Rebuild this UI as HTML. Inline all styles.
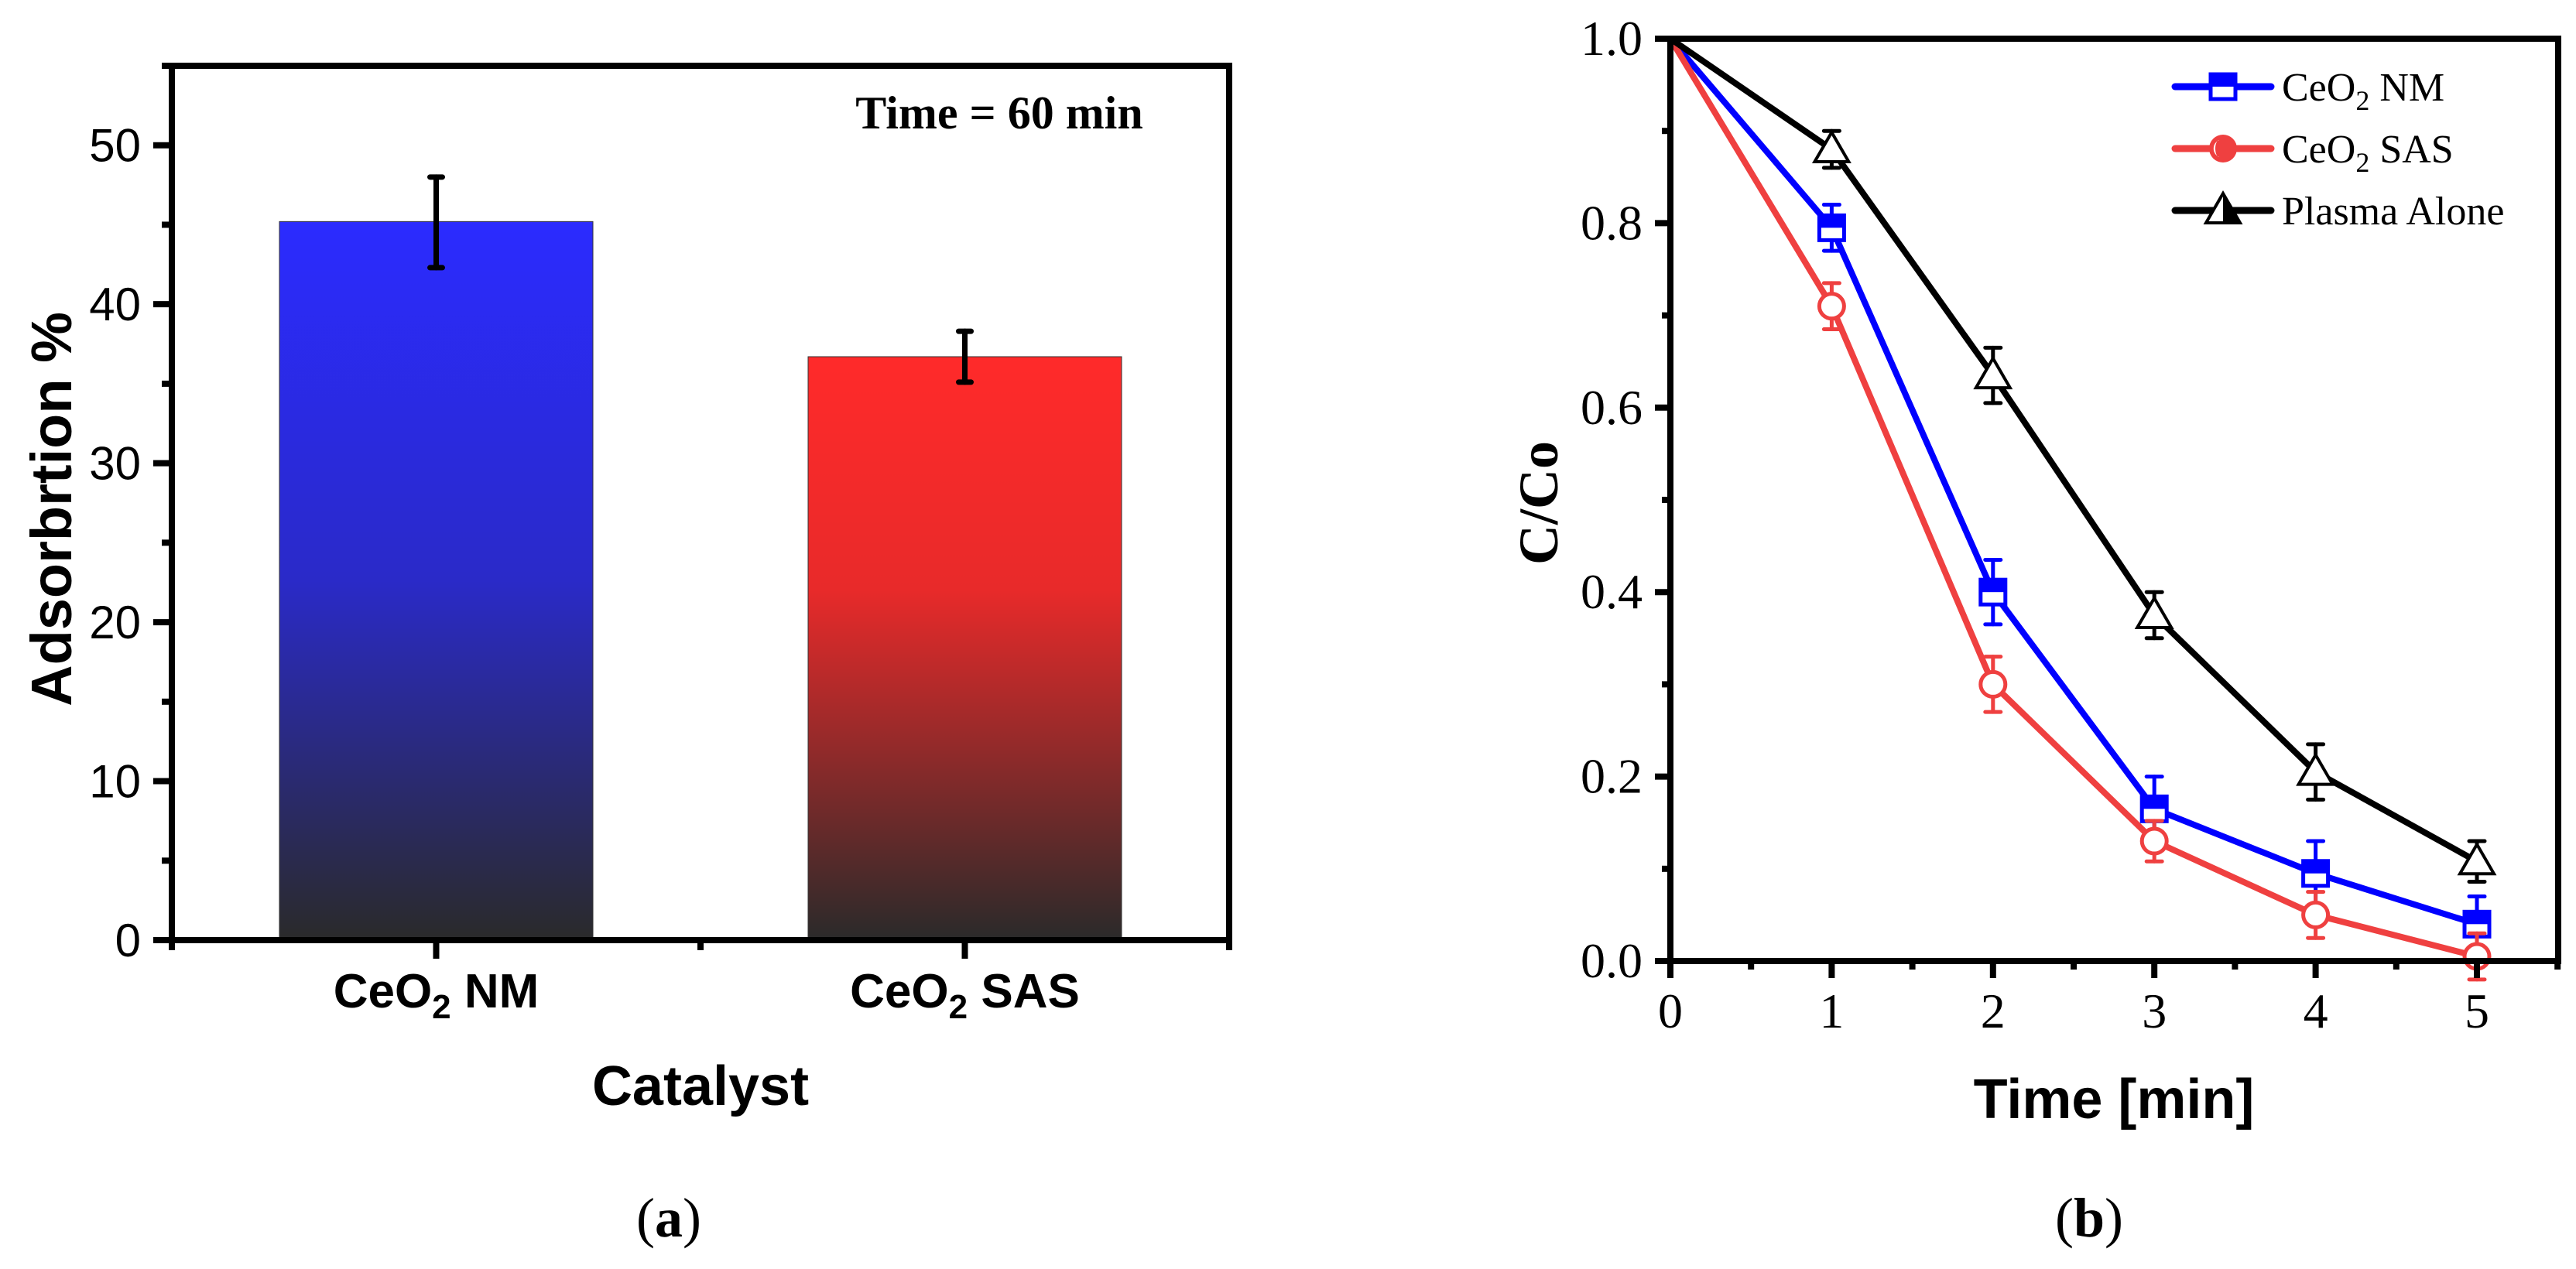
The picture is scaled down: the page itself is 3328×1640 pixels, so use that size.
<!DOCTYPE html>
<html><head><meta charset="utf-8"><style>
html,body{margin:0;padding:0;background:#fff;}
svg{display:block;}
</style></head><body>
<svg id="fig" width="3328" height="1640" viewBox="0 0 3328 1640" xmlns="http://www.w3.org/2000/svg">
<defs>
<linearGradient id="gBlue" x1="0" y1="0" x2="0" y2="1">
<stop offset="0" stop-color="#2b2bff"/><stop offset="0.5" stop-color="#2a2ac8"/><stop offset="1" stop-color="#2a2a2a"/></linearGradient>
<linearGradient id="gRed" x1="0" y1="0" x2="0" y2="1">
<stop offset="0" stop-color="#ff2a2a"/><stop offset="0.4" stop-color="#e82a2a"/><stop offset="1" stop-color="#2a2a2a"/></linearGradient>
</defs>
<g id="pa"></g>
<g id="pb"></g>
</svg>
<script>
// Panel A data
const barCategories = ["NM", "SAS"];
const barValues = [45.2, 36.7];
const barErrLow = [42.3, 35.1];
const barErrHigh = [48.0, 38.3];
const yTicksA = [0, 10, 20, 30, 40, 50];
// Panel B data
const timePoints = [0, 1, 2, 3, 4, 5];
const nmValues = [1.0, 0.795, 0.40, 0.165, 0.095, 0.04];
const nmErr = [0, 0.025, 0.035, 0.035, 0.035, 0.03];
const sasValues = [1.0, 0.71, 0.30, 0.13, 0.05, 0.005];
const sasErr = [0, 0.025, 0.03, 0.022, 0.025, 0.025];
const plasmaValues = [1.0, 0.88, 0.635, 0.375, 0.205, 0.108];
const plasmaErr = [0, 0.02, 0.03, 0.025, 0.03, 0.022];
const yTicksB = [0, 0.2, 0.4, 0.6, 0.8, 1.0];
const xTicksB = [0, 1, 2, 3, 4, 5];

const NS = "http://www.w3.org/2000/svg";
function mk(parent, tag, attrs, text) {
  const e = document.createElementNS(NS, tag);
  for (const k in attrs) e.setAttribute(k, attrs[k]);
  if (text !== undefined) e.textContent = text;
  parent.appendChild(e);
  return e;
}
const pa = document.getElementById('pa');
const pb = document.getElementById('pb');

// ---------- Panel A ----------
const aL = 222, aR = 1588, aT = 85, aB = 1215;
const yA = v => aB - (v / 55) * (aB - aT);
const xA = i => aL + (aR - aL) * (0.25 + 0.5 * i);
const barW = 405;
const fills = ["url(#gBlue)", "url(#gRed)"];
barCategories.forEach((c, i) => {
  const r = mk(pa, 'rect', {x: xA(i) - barW / 2, y: yA(barValues[i]), width: barW, height: yA(0) - yA(barValues[i]), fill: fills[i], stroke: '#333', 'stroke-width': 1});
  
  
  const g = mk(pa, 'g', {stroke: '#000', 'stroke-width': 7, 'stroke-linecap': 'round'});
  
  
  mk(g, 'line', {x1: xA(i), x2: xA(i), y1: yA(barErrLow[i]), y2: yA(barErrHigh[i])});
  mk(g, 'line', {x1: xA(i) - 8, x2: xA(i) + 8, y1: yA(barErrLow[i]), y2: yA(barErrLow[i])});
  mk(g, 'line', {x1: xA(i) - 8, x2: xA(i) + 8, y1: yA(barErrHigh[i]), y2: yA(barErrHigh[i])});
});
const fa = mk(pa, 'rect', {x: aL, y: aT, width: aR - aL, height: aB - aT, fill: 'none', stroke: '#000', 'stroke-width': 8});


yTicksA.forEach(t => {
  mk(pa, 'line', {x1: aL - 24, x2: aL, y1: yA(t), y2: yA(t), stroke: '#000', 'stroke-width': 8});
  const tx = mk(pa, 'text', {x: aL - 40, y: yA(t) + 21, 'text-anchor': 'end', 'font-family': 'Liberation Sans, sans-serif', 'font-size': 60}, String(t));
  
  
  mk(pa, 'line', {x1: aL - 13, x2: aL, y1: yA(t + 5), y2: yA(t + 5), stroke: '#000', 'stroke-width': 8});
});
[0, 0.25, 0.5, 0.75, 1].forEach(f => {
  const x = aL + (aR - aL) * f;
  mk(pa, 'line', {x1: x, x2: x, y1: aB, y2: aB + (f === 0.25 || f === 0.75 ? 24 : 13), stroke: '#000', 'stroke-width': 8});
});
barCategories.forEach((c, i) => {
  const t = mk(pa, 'text', {x: xA(i), y: 1302, 'text-anchor': 'middle', 'font-family': 'Liberation Sans, sans-serif', 'font-size': 62, 'font-weight': 'bold'});
  
  
  mk(t, 'tspan', {}, 'CeO');
  mk(t, 'tspan', {dy: 14, 'font-size': 44}, '2');
  mk(t, 'tspan', {dy: -14}, ' ' + c);
});
let el;
el = mk(pa, 'text', {x: 0, y: 0, transform: 'translate(92,658) rotate(-90)', 'text-anchor': 'middle', 'font-family': 'Liberation Sans, sans-serif', 'font-size': 74, 'font-weight': 'bold'}, 'Adsorbrtion %');


el = mk(pa, 'text', {x: 905, y: 1428, 'text-anchor': 'middle', 'font-family': 'Liberation Sans, sans-serif', 'font-size': 72, 'font-weight': 'bold'}, 'Catalyst');


el = mk(pa, 'text', {x: 1291, y: 166, 'text-anchor': 'middle', 'font-family': 'Liberation Serif, serif', 'font-size': 60, 'font-weight': 'bold'}, 'Time = 60 min');


el = mk(pa, 'text', {x: 864, y: 1598, 'text-anchor': 'middle', 'font-family': 'Liberation Serif, serif', 'font-size': 72});
mk(el, 'tspan', {}, '(');
mk(el, 'tspan', {'font-weight': 'bold'}, 'a');
mk(el, 'tspan', {}, ')');



// ---------- Panel B ----------
const bL = 2158, bR = 3305, bT = 50, bB = 1242;
const xB = t => bL + (t / 5) * (3200 - bL);
const yB = v => bB - v * (bB - bT) / 1.0;
const series = [
  {name: 'nm', vals: nmValues, err: nmErr, color: '#0000ff', marker: 'square'},
  {name: 'sas', vals: sasValues, err: sasErr, color: '#ef4040', marker: 'circle'},
  {name: 'plasma', vals: plasmaValues, err: plasmaErr, color: '#000000', marker: 'triangle'}
];
function marker(g, type, x, y, color, legend) {
  if (type === 'square') {
    mk(g, 'rect', {x: x - 16, y: y - 16, width: 32, height: 32, fill: '#fff', stroke: color, 'stroke-width': 5});
    mk(g, 'rect', {x: x - 16, y: y - 16, width: 32, height: 16, fill: color});
  } else if (type === 'circle') {
    if (legend) {
      mk(g, 'circle', {cx: x, cy: y, r: 18, fill: color});
      mk(g, 'path', {d: `M${x-5},${y-11} A12,12 0 0,0 ${x-5},${y+11} A5,11 0 0,1 ${x-5},${y-11} Z`, fill: '#fff'});
    } else {
      mk(g, 'circle', {cx: x, cy: y, r: 16, fill: '#fff', stroke: color, 'stroke-width': 5});
    }
  } else {
    mk(g, 'path', {d: `M${x},${y-22} L${x+22},${y+16} L${x-22},${y+16} Z`, fill: '#fff', stroke: color, 'stroke-width': 4});
    if (legend) mk(g, 'path', {d: `M${x},${y-22} L${x+22},${y+16} L${x},${y+16} Z`, fill: color});
  }
}
series.forEach(s => {
  const g = mk(pb, 'g', {});
  
  
  const pts = s.vals.map((v, i) => xB(timePoints[i]) + ',' + yB(v)).join(' ');
  mk(g, 'polyline', {points: pts, fill: 'none', stroke: s.color, 'stroke-width': 8, 'stroke-linejoin': 'round'});
  s.vals.forEach((v, i) => {
    const x = xB(timePoints[i]);
    if (s.err[i] > 0) {
      const eg = mk(g, 'g', {stroke: s.color, 'stroke-width': 5, 'stroke-linecap': 'round'});
      mk(eg, 'line', {x1: x, x2: x, y1: yB(v - s.err[i]), y2: yB(v + s.err[i])});
      mk(eg, 'line', {x1: x - 10, x2: x + 10, y1: yB(v - s.err[i]), y2: yB(v - s.err[i])});
      mk(eg, 'line', {x1: x - 10, x2: x + 10, y1: yB(v + s.err[i]), y2: yB(v + s.err[i])});
    }
    if (i > 0) marker(g, s.marker, x, yB(v), s.color, false);
  });
});
el = mk(pb, 'rect', {x: bL, y: bT, width: bR - bL, height: bB - bT, fill: 'none', stroke: '#000', 'stroke-width': 8});


yTicksB.forEach(t => {
  mk(pb, 'line', {x1: bL - 20, x2: bL, y1: yB(t), y2: yB(t), stroke: '#000', 'stroke-width': 8});
  if (t < 1) mk(pb, 'line', {x1: bL - 11, x2: bL, y1: yB(t + 0.1), y2: yB(t + 0.1), stroke: '#000', 'stroke-width': 8});
  const tx = mk(pb, 'text', {x: bL - 36, y: yB(t) + 21, 'text-anchor': 'end', 'font-family': 'Liberation Serif, serif', 'font-size': 64}, t.toFixed(1));
  
  
});
xTicksB.forEach(t => {
  mk(pb, 'line', {x1: xB(t), x2: xB(t), y1: bB, y2: bB + 22, stroke: '#000', 'stroke-width': 8});
  mk(pb, 'line', {x1: xB(t + 0.5), x2: xB(t + 0.5), y1: bB, y2: bB + 11, stroke: '#000', 'stroke-width': 8});
  const tx = mk(pb, 'text', {x: xB(t), y: 1328, 'text-anchor': 'middle', 'font-family': 'Liberation Serif, serif', 'font-size': 64}, String(t));
  
  
});
el = mk(pb, 'text', {x: 0, y: 0, transform: 'translate(2012,650) rotate(-90)', 'text-anchor': 'middle', 'font-family': 'Liberation Serif, serif', 'font-size': 72, 'font-weight': 'bold'}, 'C/Co');


el = mk(pb, 'text', {x: 2731, y: 1445, 'text-anchor': 'middle', 'font-family': 'Liberation Sans, sans-serif', 'font-size': 72, 'font-weight': 'bold'}, 'Time [min]');


el = mk(pb, 'text', {x: 2699, y: 1598, 'text-anchor': 'middle', 'font-family': 'Liberation Serif, serif', 'font-size': 72});
mk(el, 'tspan', {}, '(');
mk(el, 'tspan', {'font-weight': 'bold'}, 'b');
mk(el, 'tspan', {}, ')');


// legend
const legendLabels = [['CeO', '2', ' NM'], ['CeO', '2', ' SAS'], ['Plasma Alone', '', '']];
const legY = [112, 192, 272];
series.forEach((s, i) => {
  const g = mk(pb, 'g', {});
  
  
  mk(g, 'line', {x1: 2810, x2: 2934, y1: legY[i], y2: legY[i], stroke: s.color, 'stroke-width': 9, 'stroke-linecap': 'round'});
  marker(g, s.marker, 2872, legY[i], s.color, true);
  const t = mk(g, 'text', {x: 2948, y: legY[i] + 18, 'font-family': 'Liberation Serif, serif', 'font-size': 52});
  mk(t, 'tspan', {}, legendLabels[i][0]);
  if (legendLabels[i][1]) {
    mk(t, 'tspan', {dy: 12, 'font-size': 36}, legendLabels[i][1]);
    mk(t, 'tspan', {dy: -12}, legendLabels[i][2]);
  }
});
</script>
</body></html>
